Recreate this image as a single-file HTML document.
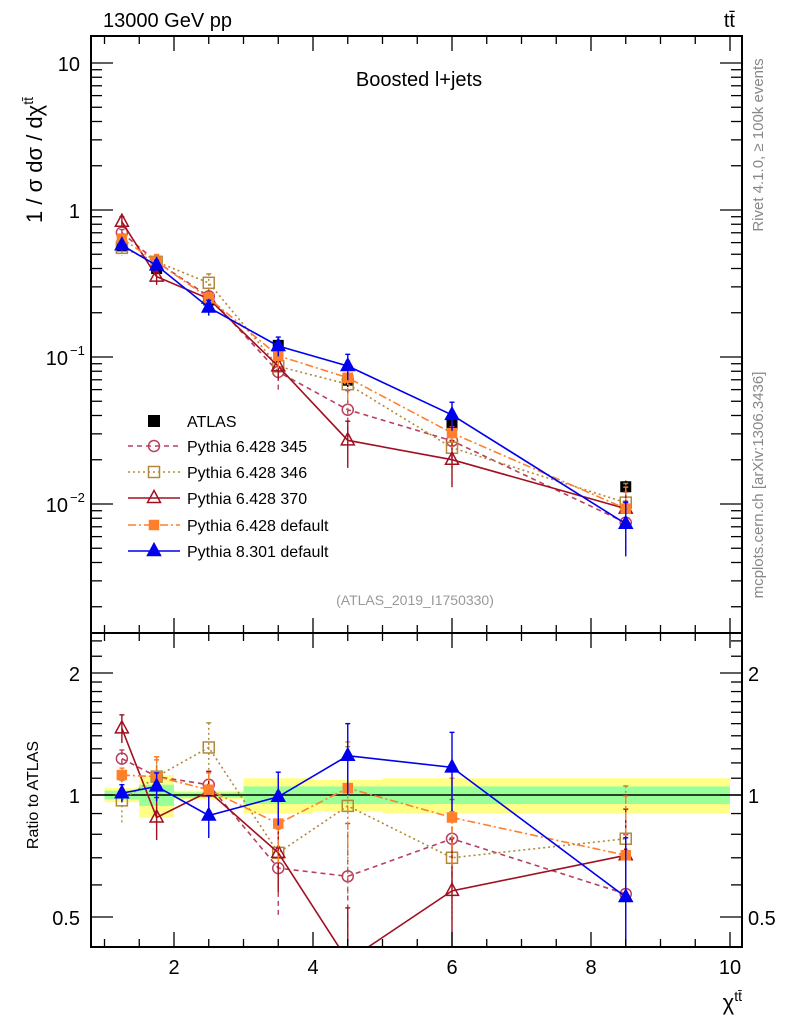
<!DOCTYPE html>
<html><head><meta charset="utf-8"><style>
html,body{margin:0;padding:0;background:#fff;overflow:hidden;}
svg{display:block;font-family:"Liberation Sans",sans-serif;}
</style></head><body>
<svg id="chart" width="786" height="1024" viewBox="0 0 786 1024" xmlns="http://www.w3.org/2000/svg">
<defs>
<clipPath id="cm"><rect x="91" y="36" width="651" height="597"/></clipPath>
<clipPath id="cr"><rect x="91" y="633" width="651" height="314"/></clipPath>
</defs>
<g id="bands" clip-path="url(#cr)"></g>
<g id="main" clip-path="url(#cm)"></g>
<g id="ratio" clip-path="url(#cr)"></g>
<g id="axes"></g>
<text x="103" y="27" font-size="20">13000 GeV pp</text>
<text x="735" y="27" font-size="20" text-anchor="end">tt̄</text>
<text x="419" y="86" font-size="20" text-anchor="middle">Boosted l+jets</text>
<text x="415" y="605" font-size="14" fill="#999" text-anchor="middle">(ATLAS_2019_I1750330)</text>
<text transform="translate(763,145) rotate(-90)" font-size="15" fill="#888" text-anchor="middle">Rivet 4.1.0, ≥ 100k events</text>
<text transform="translate(763,485) rotate(-90)" font-size="15" fill="#888" text-anchor="middle">mcplots.cern.ch [arXiv:1306.3436]</text>
<text transform="translate(42,160) rotate(-90)" font-size="22" text-anchor="middle">1 / σ dσ / dχ<tspan dy="-9" font-size="14">tt̄</tspan></text>
<text transform="translate(38,795) rotate(-90)" font-size="16" text-anchor="middle">Ratio to ATLAS</text>
<text x="742" y="1010" font-size="22" text-anchor="end">χ<tspan dy="-9" font-size="14">tt̄</tspan></text>
<g id="legend"></g>
</svg>
<script>
const xCenters=[1.25,1.75,2.5,3.5,4.5,6,8.5];
const binEdges=[1,1.5,2,3,4,5,7,10];
const atlasVals=[0.57,0.40,0.244,0.12,0.0695,0.0345,0.0131];
const atlasErr=[0.04,0.06,0.03,0.1,0.1,0.1,0.1];
const bandTot=[0.04,0.12,0.025,0.1,0.09,0.1,0.1];
const bandStat=[0.025,0.06,0.015,0.05,0.05,0.05,0.05];
const seriesNames=["Pythia 6.428 345","Pythia 6.428 346","Pythia 6.428 370","Pythia 6.428 default","Pythia 8.301 default"];
const ratio345=[1.23,1.11,1.06,0.66,0.63,0.78,0.57];
const ratio346=[0.97,1.11,1.31,0.72,0.94,0.70,0.78];
const ratio370=[1.46,0.88,1.02,0.72,0.39,0.58,0.71];
const ratioDef=[1.12,1.11,1.03,0.85,1.04,0.88,0.71];
const ratio8=[1.01,1.05,0.89,0.99,1.25,1.17,0.56];
const err345=[0.05,0.12,0.08,0.25,0.35,0.25,0.4];
const err346=[0.12,0.1,0.15,0.2,0.4,0.3,0.35];
const err370=[0.08,0.12,0.12,0.2,0.35,0.35,0.3];
const errDef=[0.04,0.12,0.1,0.2,0.3,0.25,0.4];
const err8=[0.05,0.08,0.12,0.15,0.2,0.22,0.4];

const NS="http://www.w3.org/2000/svg";
function X(v){return 174+(v-2)*69.5;}
function Y(v){return 210-147*Math.log10(v);}
function R(v){return 795-122*Math.log2(v);}
function mk(tag,attrs,parent){const e=document.createElementNS(NS,tag);for(const k in attrs)e.setAttribute(k,attrs[k]);parent.appendChild(e);return e;}
const gm=document.getElementById('main'),gr=document.getElementById('ratio'),gb=document.getElementById('bands'),ga=document.getElementById('axes'),gl=document.getElementById('legend');

const styles=[
 {c:"#b8405e",d:"5,4",m:"circle",f:false,r:ratio345,e:err345},
 {c:"#b08a3a",d:"2,3",m:"square",f:false,r:ratio346,e:err346},
 {c:"#a01020",d:"",m:"tri",f:false,r:ratio370,e:err370},
 {c:"#ff7f2a",d:"8,3,2,3",m:"square",f:true,r:ratioDef,e:errDef},
 {c:"#0000ee",d:"",m:"tri",f:true,r:ratio8,e:err8}
];
function marker(type,x,y,c,filled,g,s){
 s=s||5.5;if(filled&&type==="square")s=4.5;let el;
 const fill=filled?c:"none";
 if(type==="circle")el=mk('circle',{cx:x,cy:y,r:s,fill:"none",stroke:c,'stroke-width':1.5},g);
 else if(type==="square")el=mk('rect',{x:x-s,y:y-s,width:2*s,height:2*s,fill:fill,stroke:c,'stroke-width':1.5},g);
 else if(type==="tri")el=mk('polygon',{points:`${x},${y-s-2} ${x-s-1},${y+s-1} ${x+s+1},${y+s-1}`,fill:fill,stroke:c,'stroke-width':1.5},g);
 else el=mk('rect',{x:x-s,y:y-s,width:2*s,height:2*s,fill:"#000"},g);
 return el;
}
binEdges.slice(0,-1).forEach((lo,i)=>{
 const hi=binEdges[i+1];
 const y1=mk('rect',{x:X(lo),y:R(1+bandTot[i]),width:X(hi)-X(lo),height:R(1-bandTot[i])-R(1+bandTot[i]),fill:"#ffff88"},gb);
 
 
 const g1=mk('rect',{x:X(lo),y:R(1+bandStat[i]),width:X(hi)-X(lo),height:R(1-bandStat[i])-R(1+bandStat[i]),fill:"#99ff99"},gb);
 
 
});
mk('line',{x1:91,x2:742,y1:R(1),y2:R(1),stroke:"#000",'stroke-width':1.5},gb);
xCenters.forEach((x,i)=>{
 const v=atlasVals[i];
 mk('line',{x1:X(x),x2:X(x),y1:Y(v*(1+atlasErr[i])),y2:Y(v*(1-atlasErr[i])),stroke:"#000",'stroke-width':1.5},gm);
 const m=marker('atlas',X(x),Y(v),"#000",true,gm,5.5);
 
 
});
styles.forEach((s,si)=>{
 [[gm,v=>Y(v),i=>atlasVals[i]*s.r[i]],[gr,v=>R(v),i=>s.r[i]]].forEach(([g,fy,val])=>{
  const pts=xCenters.map((x,i)=>X(x)+","+fy(val(i))).join(" ");
  const pl=mk('polyline',{points:pts,fill:"none",stroke:s.c,'stroke-width':1.6,'stroke-dasharray':s.d},g);
  
  
  xCenters.forEach((x,i)=>{
   const v=val(i);
   mk('line',{x1:X(x),x2:X(x),y1:fy(v*(1+s.e[i])),y2:fy(Math.max(v*(1-s.e[i]),1e-4)),stroke:s.c,'stroke-width':1.4,'stroke-dasharray':s.d},g);
   mk('line',{x1:X(x)-2.5,x2:X(x)+2.5,y1:fy(v*(1+s.e[i])),y2:fy(v*(1+s.e[i])),stroke:s.c,'stroke-width':1.4},g);
   const m=marker(s.m,X(x),fy(v),s.c,s.f,g);
   
   
  });
 });
});
mk('rect',{x:91,y:36,width:651,height:597,fill:"none",stroke:"#000",'stroke-width':2},ga);
mk('rect',{x:91,y:633,width:651,height:314,fill:"none",stroke:"#000",'stroke-width':2},ga);
for(let v=1;v<=10.3;v+=0.5){
 const maj=Math.abs(v%2)<1e-6;
 const L=maj?15:8;
 [[36,1],[633,-1],[633,1],[947,-1]].forEach(([y,d])=>mk('line',{x1:X(v),x2:X(v),y1:y,y2:y+d*L,stroke:"#000",'stroke-width':1.3},ga));
}
[2,4,6,8,10].forEach(v=>{const t=mk('text',{x:X(v),y:974,'font-size':20,'text-anchor':'middle'},ga);t.textContent=v;});
for(let e=-3;e<=1;e++){for(let k=1;k<10;k++){const v=k*Math.pow(10,e);const y=Y(v);if(y<36||y>632)continue;const L=k===1?22:11;
 mk('line',{x1:91,x2:91+L,y1:y,y2:y,stroke:"#000",'stroke-width':1.3},ga);mk('line',{x1:742,x2:742-L,y1:y,y2:y,stroke:"#000",'stroke-width':1.3},ga);}}
const yl=[[10,"10",""],[1,"1",""],[0.1,"10","−1"],[0.01,"10","−2"]];
yl.forEach(([v,b,ex])=>{const t=mk('text',{x:ex?68:80,y:Y(v)+8,'font-size':20,'text-anchor':'end'},ga);t.textContent=b;
 if(ex){const s=mk('text',{x:70,y:Y(v)-2,'font-size':13},ga);s.textContent=ex;}});
[0.4,0.5,0.6,0.7,0.8,0.9,1,1.1,1.2,1.3,1.4,1.5,1.6,1.7,1.8,1.9,2,2.2,2.4].forEach(v=>{const y=R(v);if(y<633||y>947)return;const maj=(v===0.5||v===1||v===2);const L=maj?22:11;
 mk('line',{x1:91,x2:91+L,y1:y,y2:y,stroke:"#000",'stroke-width':1.3},ga);mk('line',{x1:742,x2:742-L,y1:y,y2:y,stroke:"#000",'stroke-width':1.3},ga);});
[[2,"2"],[1,"1"],[0.5,"0.5"]].forEach(([v,l])=>{let t=mk('text',{x:80,y:R(v)+8,'font-size':20,'text-anchor':'end'},ga);t.textContent=l;
 t=mk('text',{x:748,y:R(v)+8,'font-size':20},ga);t.textContent=l;});
const ly=[421,446,472,498,525,551];
marker('atlas',154,ly[0],"#000",true,gl,6);
let t0=mk('text',{x:187,y:ly[0]+6,'font-size':16},gl);t0.textContent="ATLAS";


styles.forEach((s,i)=>{const y=ly[i+1];
 mk('line',{x1:128,x2:180,y1:y,y2:y,stroke:s.c,'stroke-width':1.6,'stroke-dasharray':s.d},gl);
 marker(s.m,154,y,s.c,s.f,gl);
 const t=mk('text',{x:187,y:y+6,'font-size':16},gl);t.textContent=seriesNames[i];
 
 
});
</script>
</body></html>
